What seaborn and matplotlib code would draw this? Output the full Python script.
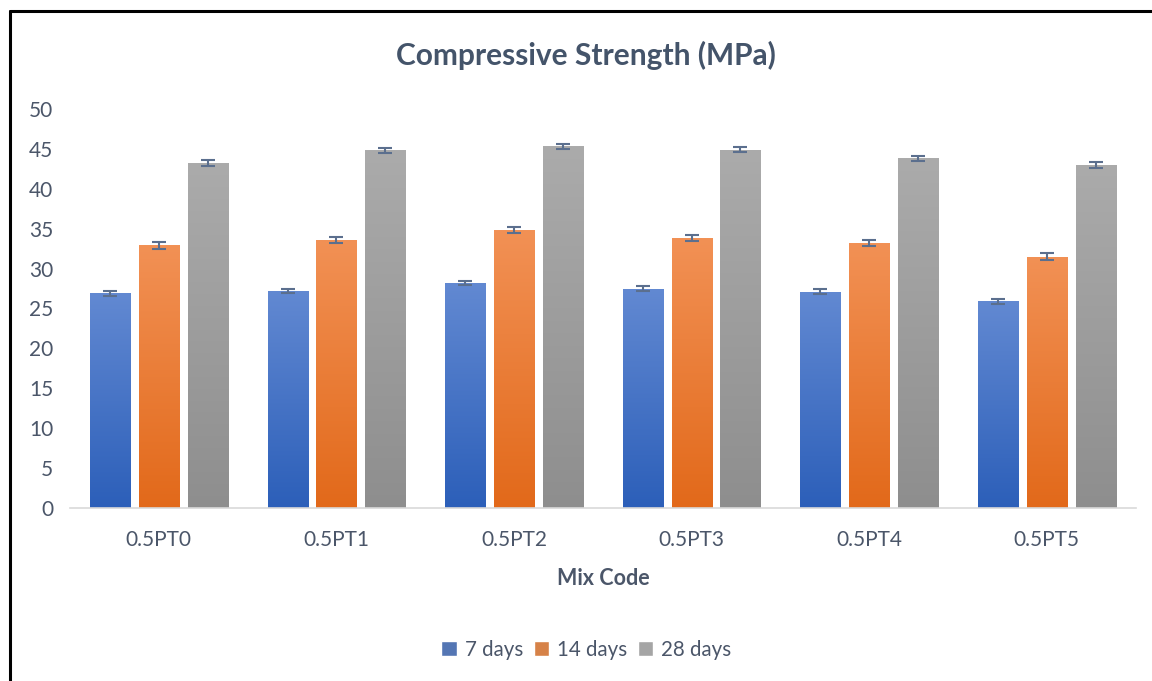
import numpy as np
import pandas as pd
import matplotlib
matplotlib.use("Agg")
import matplotlib.pyplot as plt
import seaborn as sns
from matplotlib.colors import LinearSegmentedColormap
from matplotlib.lines import Line2D

mix_codes = ["0.5PT0", "0.5PT1", "0.5PT2", "0.5PT3", "0.5PT4", "0.5PT5"]
ages = ["7 days", "14 days", "28 days"]
day7 = [26.9, 27.2, 28.2, 27.5, 27.1, 25.9]
day14 = [32.9, 33.6, 34.8, 33.8, 33.2, 31.5]
day28 = [43.2, 44.8, 45.3, 44.9, 43.8, 43.0]
err7 = [0.3, 0.3, 0.3, 0.3, 0.3, 0.3]
err14 = [0.4, 0.4, 0.4, 0.4, 0.4, 0.4]
err28 = [0.35, 0.35, 0.35, 0.35, 0.35, 0.35]

# gradient colours (top, bottom) like the excel fill
grad = {"7 days": ("#6289d2", "#2c5fb9"),
        "14 days": ("#f29155", "#e2691a"),
        "28 days": ("#ababab", "#8e8e8e")}
palette = {"7 days": "#4472c4", "14 days": "#ed7d31", "28 days": "#a5a5a5"}
txt = "#4b5669"

df = pd.DataFrame({
    "Mix Code": mix_codes * 3,
    "Age": [a for a in ages for _ in mix_codes],
    "Strength": day7 + day14 + day28,
    "Err": err7 + err14 + err28,
})

sns.set_style("white")
plt.rcParams["font.family"] = ["Lato", "DejaVu Sans"]

fig = plt.figure(figsize=(11.52, 6.81), dpi=100)
ax = fig.add_axes([0.0608, 0.254, 0.925, 0.586])

sns.barplot(data=df, x="Mix Code", y="Strength", hue="Age", hue_order=ages,
            order=mix_codes, palette=palette, errorbar=None, width=0.825,
            gap=0.18, ax=ax, legend=True)

# gradient fill + error bars
for container, age in zip(ax.containers, ages):
    cmap = LinearSegmentedColormap.from_list(age, [grad[age][1], grad[age][0]])
    sub = df[df["Age"] == age].set_index("Mix Code").loc[mix_codes]
    for bar, err in zip(container, sub["Err"]):
        x0, y0 = bar.get_x(), bar.get_y()
        w, h = bar.get_width(), bar.get_height()
        img = ax.imshow(np.linspace(0, 1, 256).reshape(-1, 1), cmap=cmap,
                        extent=[x0, x0 + w, y0, y0 + h], origin="lower",
                        aspect="auto", zorder=bar.get_zorder() + 0.1)
        img.set_clip_path(bar)
        ax.errorbar(x0 + w / 2, y0 + h, yerr=err, color="#5b6f8e",
                    elinewidth=1.5, capsize=5, capthick=1.5, zorder=5)

ax.set_xlim(-0.5, 5.5)
ax.set_ylim(0, 50)
ax.set_yticks(range(0, 51, 5))
ax.tick_params(axis="both", labelsize=15, colors=txt, length=0)
ax.tick_params(axis="x", pad=16)
ax.tick_params(axis="y", pad=12)
for s in ["top", "right", "left"]:
    ax.spines[s].set_visible(False)
ax.spines["bottom"].set_color("#d9d9d9")
ax.spines["bottom"].set_linewidth(1.2)

ax.set_xlabel("Mix Code", fontsize=15.5, fontweight="bold", color=txt, labelpad=13)
ax.set_ylabel("")

fig.text(0.509, 0.918, "Compressive Strength (MPa)", ha="center", va="center",
         fontsize=21.5, fontweight="bold", color="#44546a")

handles, labels = ax.get_legend_handles_labels()
ax.legend_.remove()
fig.legend(handles, labels, loc="center", bbox_to_anchor=(0.509, 0.046), ncol=3,
           frameon=False, fontsize=14.8, handlelength=0.75, handleheight=0.75,
           handletextpad=0.4, columnspacing=0.5, labelcolor=txt)

# outer frame (top and left edges visible)
fig.add_artist(Line2D([10 / 1152, 1.0], [1 - 11 / 681, 1 - 11 / 681], color="black", lw=2.2,
                      transform=fig.transFigure))
fig.add_artist(Line2D([10 / 1152, 10 / 1152], [0.0, 1 - 11 / 681], color="black", lw=2.2,
                      transform=fig.transFigure))

fig.savefig("out.png", dpi=100)
